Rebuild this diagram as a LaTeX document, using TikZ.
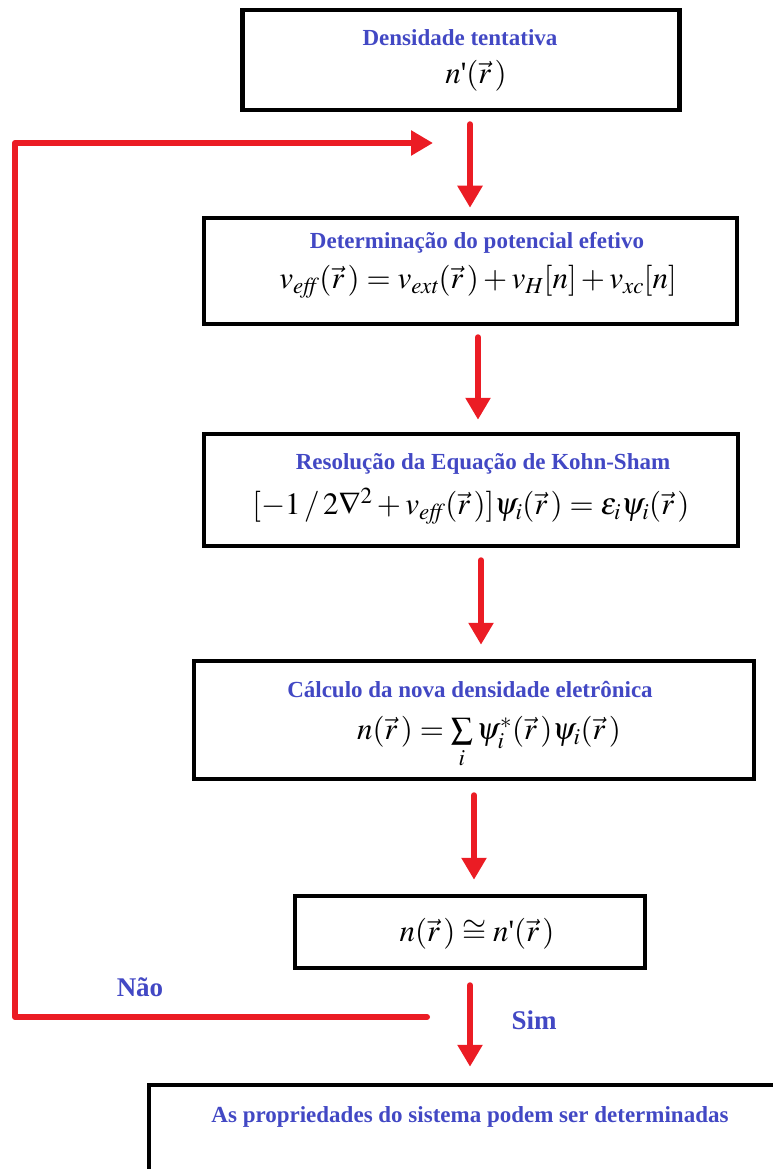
\documentclass[tikz,border=0pt]{standalone}
\usepackage{amsmath}
\usepackage{mathptmx}
\usepackage[no-math]{fontspec}
\setmainfont{Liberation Serif}
\usetikzlibrary{arrows.meta}
\definecolor{rd}{RGB}{235,28,36}
\definecolor{bl}{RGB}{66,72,196}
\newcommand{\qprime}{\text{\textquotesingle}}
\begin{document}
\begin{tikzpicture}[x=1pt,y=-1pt,
  box/.style={draw=black,line width=4.5pt,inner sep=0pt},
  ttl/.style={text=bl,font=\fontsize{23}{26}\selectfont\bfseries,inner sep=0pt},
  lbl/.style={text=bl,font=\fontsize{27}{30}\selectfont\bfseries,inner sep=0pt},
  eq/.style={font=\fontsize{31}{36}\selectfont,inner sep=0pt},
  rline/.style={draw=rd,line width=6pt,line join=round,line cap=round},
  rarrow/.style={rline,-{Triangle[width=24pt,length=22pt]}}]
\useasboundingbox (0,0) rectangle (773,1169);
% boxes
\node[box,minimum width=437pt,minimum height=100pt] (b1) at (461,60) {};
\node[box,minimum width=533pt,minimum height=106pt] (b2) at (470.5,271) {};
\node[box,minimum width=534pt,minimum height=112pt] (b3) at (471,490) {};
\node[box,minimum width=560pt,minimum height=118pt] (b4) at (474,720) {};
\node[box,minimum width=350pt,minimum height=72pt] (b5) at (470,932) {};
\node[box,minimum width=651pt,minimum height=115pt] (b6) at (474.5,1142.5) {};
% texts
\node[ttl] (t1) at (460,38) {Densidade tentativa};
\node[eq] (m1) at (476,76) {$n\qprime(\vec{r}\,)$};
\node[ttl] (t2) at (477,243) {Determinação do potencial efetivo};
\node[eq] (m2) at (478,282) {$v_{\mathit{eff}}(\vec{r}\,)=v_{\mathit{ext}}(\vec{r}\,)+v_{H}[n]+v_{\mathit{xc}}[n]$};
\node[ttl] (t3) at (483,464) {Resolução da Equação de Kohn-Sham};
\node[eq] (m3) at (471,506) {$[-1\,/\,2\nabla^{2}+v_{\mathit{eff}}(\vec{r}\,)]\psi_{i}(\vec{r}\,)=\epsilon_{i}\psi_{i}(\vec{r}\,)$};
\node[ttl] (t4) at (470,690) {Cálculo da nova densidade eletrônica};
\node[eq,anchor=north] (m4) at (489,716) {$n(\vec{r}\,)=\sum\limits_{i}\psi_{i}^{*}(\vec{r}\,)\psi_{i}(\vec{r}\,)$};
\node[eq] (m5) at (477,934) {$n(\vec{r}\,)\cong n\qprime(\vec{r}\,)$};
\node[ttl] (t6) at (470,1117) {As propriedades do sistema podem ser determinadas};
\node[lbl] (nao) at (140,987) {Não};
\node[lbl] (sim) at (534,1020) {Sim};
% arrow columns
\coordinate (c1) at (470,0);
\coordinate (c2) at (478,0);
\coordinate (c3) at (481,0);
\coordinate (c4) at (474,0);
\coordinate (c5) at (470,0);
\draw[rarrow,shorten <=12pt,shorten >=8pt] (b1.south -| c1) -- (b2.north -| c1);
\draw[rarrow,shorten <=11pt,shorten >=12pt] (b2.south -| c2) -- (b3.north -| c2);
\draw[rarrow,shorten <=12pt,shorten >=14pt] (b3.south -| c3) -- (b4.north -| c3);
\draw[rarrow,shorten <=14pt,shorten >=14pt] (b4.south -| c4) -- (b5.north -| c4);
\draw[rarrow,shorten <=15pt,shorten >=16pt] (b5.south -| c5) -- (b6.north -| c5);
% feedback loop
\coordinate (loopstart) at (427,1017);
\coordinate (loopend) at (433,143);
\draw[rarrow] (loopstart) -- (15,1017) -- (15,143) -- (loopend);
\end{tikzpicture}
\end{document}
